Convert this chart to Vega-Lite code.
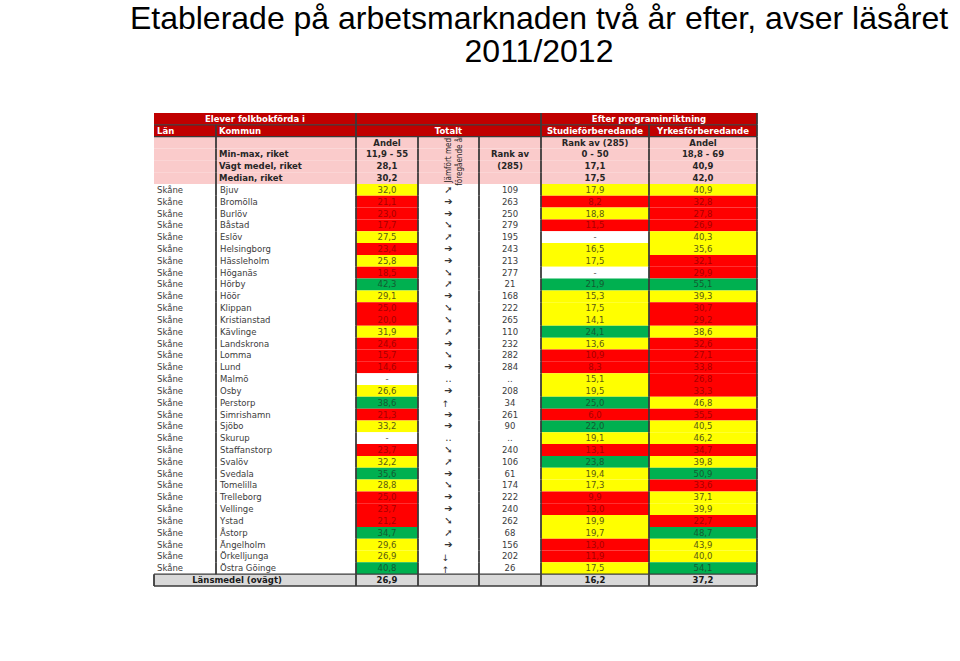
{
  "$schema": "https://vega.github.io/schema/vega-lite/v6.json",
  "background": "#ffffff",
  "padding": 0,
  "config": {"view": {"stroke": null}, "concat": {"spacing": 0}, "text": {"font": "DejaVu Sans"}},
  "bounds": "flush",
  "spacing": 0,
  "data": {"values": [
    {"row": "h1", "typ": "rubrik", "kommun": "Elever folkbokförda i", "yrkes": "Efter programinriktning"},
    {"row": "h2", "typ": "rubrik", "lan": "Län", "kommun": "Kommun", "trend": "Totalt", "studie": "Studieförberedande", "yrkes": "Yrkesförberedande"},
    {"row": "p1", "typ": "riket", "andel": "Andel", "studie": "Rank av (285)", "yrkes": "Andel"},
    {"row": "p2", "typ": "riket", "kommun": "Min-max, riket", "andel": "11,9 - 55", "trend": "Jämfört med\nföregående år", "rank": "Rank av", "studie": "0 - 50", "yrkes": "18,8 - 69"},
    {"row": "p3", "typ": "riket", "kommun": "Vägt medel, riket", "andel": "28,1", "rank": "(285)", "studie": "17,1", "yrkes": "40,9"},
    {"row": "p4", "typ": "riket", "kommun": "Median, riket", "andel": "30,2", "studie": "17,5", "yrkes": "42,0"},
    {"row": "Bjuv", "typ": "kommun", "lan": "Skåne", "kommun": "Bjuv", "andel": "32,0", "ak": "mellan", "trend": "➚", "rank": "109", "studie": "17,9", "sk": "mellan", "yrkes": "40,9", "yk": "mellan"},
    {"row": "Bromölla", "typ": "kommun", "lan": "Skåne", "kommun": "Bromölla", "andel": "21,1", "ak": "låg", "trend": "➔", "rank": "263", "studie": "8,2", "sk": "låg", "yrkes": "32,8", "yk": "låg"},
    {"row": "Burlöv", "typ": "kommun", "lan": "Skåne", "kommun": "Burlöv", "andel": "23,0", "ak": "låg", "trend": "➔", "rank": "250", "studie": "18,8", "sk": "mellan", "yrkes": "27,8", "yk": "låg"},
    {"row": "Båstad", "typ": "kommun", "lan": "Skåne", "kommun": "Båstad", "andel": "17,7", "ak": "låg", "trend": "➘", "rank": "279", "studie": "11,5", "sk": "låg", "yrkes": "26,9", "yk": "låg"},
    {"row": "Eslöv", "typ": "kommun", "lan": "Skåne", "kommun": "Eslöv", "andel": "27,5", "ak": "mellan", "trend": "➚", "rank": "195", "studie": "-", "sk": "saknas", "yrkes": "40,3", "yk": "mellan"},
    {"row": "Helsingborg", "typ": "kommun", "lan": "Skåne", "kommun": "Helsingborg", "andel": "23,4", "ak": "låg", "trend": "➔", "rank": "243", "studie": "16,5", "sk": "mellan", "yrkes": "35,6", "yk": "mellan"},
    {"row": "Hässleholm", "typ": "kommun", "lan": "Skåne", "kommun": "Hässleholm", "andel": "25,8", "ak": "mellan", "trend": "➔", "rank": "213", "studie": "17,5", "sk": "mellan", "yrkes": "32,1", "yk": "låg"},
    {"row": "Höganäs", "typ": "kommun", "lan": "Skåne", "kommun": "Höganäs", "andel": "18,5", "ak": "låg", "trend": "➘", "rank": "277", "studie": "-", "sk": "saknas", "yrkes": "29,9", "yk": "låg"},
    {"row": "Hörby", "typ": "kommun", "lan": "Skåne", "kommun": "Hörby", "andel": "42,3", "ak": "hög", "trend": "➚", "rank": "21", "studie": "21,9", "sk": "hög", "yrkes": "55,1", "yk": "hög"},
    {"row": "Höör", "typ": "kommun", "lan": "Skåne", "kommun": "Höör", "andel": "29,1", "ak": "mellan", "trend": "➔", "rank": "168", "studie": "15,3", "sk": "mellan", "yrkes": "39,3", "yk": "mellan"},
    {"row": "Klippan", "typ": "kommun", "lan": "Skåne", "kommun": "Klippan", "andel": "25,0", "ak": "låg", "trend": "➘", "rank": "222", "studie": "17,5", "sk": "mellan", "yrkes": "30,7", "yk": "låg"},
    {"row": "Kristianstad", "typ": "kommun", "lan": "Skåne", "kommun": "Kristianstad", "andel": "20,0", "ak": "låg", "trend": "➘", "rank": "265", "studie": "14,1", "sk": "mellan", "yrkes": "29,2", "yk": "låg"},
    {"row": "Kävlinge", "typ": "kommun", "lan": "Skåne", "kommun": "Kävlinge", "andel": "31,9", "ak": "mellan", "trend": "➚", "rank": "110", "studie": "24,1", "sk": "hög", "yrkes": "38,6", "yk": "mellan"},
    {"row": "Landskrona", "typ": "kommun", "lan": "Skåne", "kommun": "Landskrona", "andel": "24,6", "ak": "låg", "trend": "➔", "rank": "232", "studie": "13,6", "sk": "mellan", "yrkes": "32,6", "yk": "låg"},
    {"row": "Lomma", "typ": "kommun", "lan": "Skåne", "kommun": "Lomma", "andel": "15,7", "ak": "låg", "trend": "➘", "rank": "282", "studie": "10,9", "sk": "låg", "yrkes": "27,1", "yk": "låg"},
    {"row": "Lund", "typ": "kommun", "lan": "Skåne", "kommun": "Lund", "andel": "14,6", "ak": "låg", "trend": "➔", "rank": "284", "studie": "8,3", "sk": "låg", "yrkes": "33,8", "yk": "låg"},
    {"row": "Malmö", "typ": "kommun", "lan": "Skåne", "kommun": "Malmö", "andel": "-", "ak": "saknas", "trend": "..", "rank": "..", "studie": "15,1", "sk": "mellan", "yrkes": "26,8", "yk": "låg"},
    {"row": "Osby", "typ": "kommun", "lan": "Skåne", "kommun": "Osby", "andel": "26,6", "ak": "mellan", "trend": "➔", "rank": "208", "studie": "19,5", "sk": "mellan", "yrkes": "33,3", "yk": "låg"},
    {"row": "Perstorp", "typ": "kommun", "lan": "Skåne", "kommun": "Perstorp", "andel": "38,6", "ak": "hög", "trend": "↑", "rank": "34", "studie": "25,0", "sk": "hög", "yrkes": "46,8", "yk": "mellan"},
    {"row": "Simrishamn", "typ": "kommun", "lan": "Skåne", "kommun": "Simrishamn", "andel": "21,3", "ak": "låg", "trend": "➔", "rank": "261", "studie": "6,0", "sk": "låg", "yrkes": "35,5", "yk": "låg"},
    {"row": "Sjöbo", "typ": "kommun", "lan": "Skåne", "kommun": "Sjöbo", "andel": "33,2", "ak": "mellan", "trend": "➔", "rank": "90", "studie": "22,0", "sk": "hög", "yrkes": "40,5", "yk": "mellan"},
    {"row": "Skurup", "typ": "kommun", "lan": "Skåne", "kommun": "Skurup", "andel": "-", "ak": "saknas", "trend": "..", "rank": "..", "studie": "19,1", "sk": "mellan", "yrkes": "46,2", "yk": "mellan"},
    {"row": "Staffanstorp", "typ": "kommun", "lan": "Skåne", "kommun": "Staffanstorp", "andel": "23,7", "ak": "låg", "trend": "➘", "rank": "240", "studie": "13,1", "sk": "låg", "yrkes": "34,7", "yk": "låg"},
    {"row": "Svalöv", "typ": "kommun", "lan": "Skåne", "kommun": "Svalöv", "andel": "32,2", "ak": "mellan", "trend": "➚", "rank": "106", "studie": "23,8", "sk": "hög", "yrkes": "39,8", "yk": "mellan"},
    {"row": "Svedala", "typ": "kommun", "lan": "Skåne", "kommun": "Svedala", "andel": "35,6", "ak": "hög", "trend": "➔", "rank": "61", "studie": "19,4", "sk": "mellan", "yrkes": "50,9", "yk": "hög"},
    {"row": "Tomelilla", "typ": "kommun", "lan": "Skåne", "kommun": "Tomelilla", "andel": "28,8", "ak": "mellan", "trend": "➘", "rank": "174", "studie": "17,3", "sk": "mellan", "yrkes": "33,6", "yk": "låg"},
    {"row": "Trelleborg", "typ": "kommun", "lan": "Skåne", "kommun": "Trelleborg", "andel": "25,0", "ak": "låg", "trend": "➔", "rank": "222", "studie": "9,9", "sk": "låg", "yrkes": "37,1", "yk": "mellan"},
    {"row": "Vellinge", "typ": "kommun", "lan": "Skåne", "kommun": "Vellinge", "andel": "23,7", "ak": "låg", "trend": "➔", "rank": "240", "studie": "13,0", "sk": "låg", "yrkes": "39,9", "yk": "mellan"},
    {"row": "Ystad", "typ": "kommun", "lan": "Skåne", "kommun": "Ystad", "andel": "21,2", "ak": "låg", "trend": "➘", "rank": "262", "studie": "19,9", "sk": "mellan", "yrkes": "22,7", "yk": "låg"},
    {"row": "Åstorp", "typ": "kommun", "lan": "Skåne", "kommun": "Åstorp", "andel": "34,7", "ak": "hög", "trend": "➚", "rank": "68", "studie": "19,7", "sk": "mellan", "yrkes": "48,7", "yk": "hög"},
    {"row": "Ängelholm", "typ": "kommun", "lan": "Skåne", "kommun": "Ängelholm", "andel": "29,6", "ak": "mellan", "trend": "➔", "rank": "156", "studie": "13,0", "sk": "låg", "yrkes": "43,9", "yk": "mellan"},
    {"row": "Örkelljunga", "typ": "kommun", "lan": "Skåne", "kommun": "Örkelljunga", "andel": "26,9", "ak": "mellan", "trend": "↓", "rank": "202", "studie": "11,9", "sk": "låg", "yrkes": "40,0", "yk": "mellan"},
    {"row": "Östra Göinge", "typ": "kommun", "lan": "Skåne", "kommun": "Östra Göinge", "andel": "40,8", "ak": "hög", "trend": "↑", "rank": "26", "studie": "17,5", "sk": "mellan", "yrkes": "54,1", "yk": "hög"},
    {"row": "L", "typ": "län", "kommun": "Länsmedel (ovägt)", "andel": "26,9", "studie": "16,2", "yrkes": "37,2"}
  ]},
  "vconcat": [
    {"width": 960, "height": 113, "data": {"values": [{}]}, "mark": {"type": "text", "font": "Liberation Sans", "fontSize": 32, "lineHeight": 33, "baseline": "alphabetic", "align": "center", "dx": 59, "dy": -28, "color": "#000000"}, "encoding": {"text": {"value": ["Etablerade på arbetsmarknaden två år efter, avser läsåret", "2011/2012"]}}},
    {
      "bounds": "flush",
      "spacing": 0,
      "hconcat": [
        {"width": 154, "height": 473, "data": {"values": [{}]}, "mark": {"type": "text"}, "encoding": {"text": {"value": ""}}},
        {
          "width": 62, "height": 473,
          "encoding": {"y": {"field": "row", "type": "nominal", "scale": {"domain": ["h1","h2","p1","p2","p3","p4","Bjuv","Bromölla","Burlöv","Båstad","Eslöv","Helsingborg","Hässleholm","Höganäs","Hörby","Höör","Klippan","Kristianstad","Kävlinge","Landskrona","Lomma","Lund","Malmö","Osby","Perstorp","Simrishamn","Sjöbo","Skurup","Staffanstorp","Svalöv","Svedala","Tomelilla","Trelleborg","Vellinge","Ystad","Åstorp","Ängelholm","Örkelljunga","Östra Göinge","L"], "paddingInner": 0, "paddingOuter": 0}, "axis": null}},
          "layer": [
            {"mark": {"type": "rect"}, "encoding": {"fill": {"condition": [{"test": "datum.typ==='rubrik'", "value": "#C00000"}, {"test": "datum.typ==='riket'", "value": "#FACBCB"}, {"test": "datum.typ==='län'", "value": "#D9D9D9"}], "value": "#FFFFFF"}}},
            {"transform": [{"filter": "datum.typ==='rubrik' && isValid(datum.lan)"}], "mark": {"type": "text", "align": "left", "dx": -28, "fontWeight": "bold", "fontSize": 8.5, "color": "#FFFFFF"}, "encoding": {"text": {"field": "lan"}}},
            {"transform": [{"filter": "datum.typ==='kommun'"}], "mark": {"type": "text", "align": "left", "dx": -28, "fontSize": 8.5, "color": "#3c3c3c"}, "encoding": {"text": {"field": "lan"}}},
            {"transform": [{"filter": "datum.row==='L'"}], "mark": {"type": "rect", "color": "#3a3a3a"}, "encoding": {"x": {"value": -0.9}, "x2": {"value": 0.9}}},
            {"transform": [{"filter": "indexof(['h2','p1','L'], datum.row) >= 0"}], "mark": {"type": "rule", "color": "#3a3a3a", "strokeWidth": 1.2}, "encoding": {"y": {"field": "row", "type": "nominal", "bandPosition": 0, "scale": {"domain": ["h1","h2","p1","p2","p3","p4","Bjuv","Bromölla","Burlöv","Båstad","Eslöv","Helsingborg","Hässleholm","Höganäs","Hörby","Höör","Klippan","Kristianstad","Kävlinge","Landskrona","Lomma","Lund","Malmö","Osby","Perstorp","Simrishamn","Sjöbo","Skurup","Staffanstorp","Svalöv","Svedala","Tomelilla","Trelleborg","Vellinge","Ystad","Åstorp","Ängelholm","Örkelljunga","Östra Göinge","L"], "paddingInner": 0, "paddingOuter": 0}, "axis": null}}},
            {"transform": [{"filter": "datum.row==='L'"}], "mark": {"type": "rule", "color": "#3a3a3a", "strokeWidth": 1.5}, "encoding": {"y": {"field": "row", "type": "nominal", "bandPosition": 1, "scale": {"domain": ["h1","h2","p1","p2","p3","p4","Bjuv","Bromölla","Burlöv","Båstad","Eslöv","Helsingborg","Hässleholm","Höganäs","Hörby","Höör","Klippan","Kristianstad","Kävlinge","Landskrona","Lomma","Lund","Malmö","Osby","Perstorp","Simrishamn","Sjöbo","Skurup","Staffanstorp","Svalöv","Svedala","Tomelilla","Trelleborg","Vellinge","Ystad","Åstorp","Ängelholm","Örkelljunga","Östra Göinge","L"], "paddingInner": 0, "paddingOuter": 0}, "axis": null}}}
          ]
        },
        {
          "width": 140, "height": 473,
          "encoding": {"y": {"field": "row", "type": "nominal", "scale": {"domain": ["h1","h2","p1","p2","p3","p4","Bjuv","Bromölla","Burlöv","Båstad","Eslöv","Helsingborg","Hässleholm","Höganäs","Hörby","Höör","Klippan","Kristianstad","Kävlinge","Landskrona","Lomma","Lund","Malmö","Osby","Perstorp","Simrishamn","Sjöbo","Skurup","Staffanstorp","Svalöv","Svedala","Tomelilla","Trelleborg","Vellinge","Ystad","Åstorp","Ängelholm","Örkelljunga","Östra Göinge","L"], "paddingInner": 0, "paddingOuter": 0}, "axis": null}},
          "layer": [
            {"mark": {"type": "rect"}, "encoding": {"fill": {"condition": [{"test": "datum.typ==='rubrik'", "value": "#C00000"}, {"test": "datum.typ==='riket'", "value": "#FACBCB"}, {"test": "datum.typ==='län'", "value": "#D9D9D9"}], "value": "#FFFFFF"}}},
            {"transform": [{"filter": "datum.row==='h1'"}], "mark": {"type": "text", "align": "center", "dx": -31, "fontWeight": "bold", "fontSize": 8.5, "color": "#FFFFFF"}, "encoding": {"text": {"field": "kommun"}}},
            {"transform": [{"filter": "datum.row==='h2'"}], "mark": {"type": "text", "align": "left", "dx": -67, "fontWeight": "bold", "fontSize": 8.5, "color": "#FFFFFF"}, "encoding": {"text": {"field": "kommun"}}},
            {"transform": [{"filter": "datum.typ==='riket' && isValid(datum.kommun)"}], "mark": {"type": "text", "align": "left", "dx": -67, "fontWeight": "bold", "fontSize": 8.5, "color": "#262626"}, "encoding": {"text": {"field": "kommun"}}},
            {"transform": [{"filter": "datum.typ==='kommun'"}], "mark": {"type": "text", "align": "left", "dx": -66, "fontSize": 8.5, "color": "#3c3c3c"}, "encoding": {"text": {"field": "kommun"}}},
            {"transform": [{"filter": "datum.typ==='län'"}], "mark": {"type": "text", "align": "center", "dx": -49, "fontWeight": "bold", "fontSize": 8.5, "color": "#1a1a1a"}, "encoding": {"text": {"field": "kommun"}}},
            {"transform": [{"filter": "indexof(['h1','L'], datum.row) < 0"}], "mark": {"type": "rect", "color": "#3a3a3a"}, "encoding": {"x": {"value": -0.9}, "x2": {"value": 0.9}}},
            {"transform": [{"filter": "indexof(['h2','p1','L'], datum.row) >= 0"}], "mark": {"type": "rule", "color": "#3a3a3a", "strokeWidth": 1.2}, "encoding": {"y": {"field": "row", "type": "nominal", "bandPosition": 0, "scale": {"domain": ["h1","h2","p1","p2","p3","p4","Bjuv","Bromölla","Burlöv","Båstad","Eslöv","Helsingborg","Hässleholm","Höganäs","Hörby","Höör","Klippan","Kristianstad","Kävlinge","Landskrona","Lomma","Lund","Malmö","Osby","Perstorp","Simrishamn","Sjöbo","Skurup","Staffanstorp","Svalöv","Svedala","Tomelilla","Trelleborg","Vellinge","Ystad","Åstorp","Ängelholm","Örkelljunga","Östra Göinge","L"], "paddingInner": 0, "paddingOuter": 0}, "axis": null}}},
            {"transform": [{"filter": "datum.row==='L'"}], "mark": {"type": "rule", "color": "#3a3a3a", "strokeWidth": 1.5}, "encoding": {"y": {"field": "row", "type": "nominal", "bandPosition": 1, "scale": {"domain": ["h1","h2","p1","p2","p3","p4","Bjuv","Bromölla","Burlöv","Båstad","Eslöv","Helsingborg","Hässleholm","Höganäs","Hörby","Höör","Klippan","Kristianstad","Kävlinge","Landskrona","Lomma","Lund","Malmö","Osby","Perstorp","Simrishamn","Sjöbo","Skurup","Staffanstorp","Svalöv","Svedala","Tomelilla","Trelleborg","Vellinge","Ystad","Åstorp","Ängelholm","Örkelljunga","Östra Göinge","L"], "paddingInner": 0, "paddingOuter": 0}, "axis": null}}}
          ]
        },
        {
          "width": 62, "height": 473,
          "encoding": {"y": {"field": "row", "type": "nominal", "scale": {"domain": ["h1","h2","p1","p2","p3","p4","Bjuv","Bromölla","Burlöv","Båstad","Eslöv","Helsingborg","Hässleholm","Höganäs","Hörby","Höör","Klippan","Kristianstad","Kävlinge","Landskrona","Lomma","Lund","Malmö","Osby","Perstorp","Simrishamn","Sjöbo","Skurup","Staffanstorp","Svalöv","Svedala","Tomelilla","Trelleborg","Vellinge","Ystad","Åstorp","Ängelholm","Örkelljunga","Östra Göinge","L"], "paddingInner": 0, "paddingOuter": 0}, "axis": null}},
          "layer": [
            {"mark": {"type": "rect"}, "encoding": {"fill": {"condition": [{"test": "datum.typ==='rubrik'", "value": "#C00000"}, {"test": "datum.typ==='riket'", "value": "#FACBCB"}, {"test": "datum.typ==='län'", "value": "#D9D9D9"}], "field": "ak", "type": "nominal", "scale": {"domain": ["hög","mellan","låg","saknas"], "range": ["#00B050","#FFFF00","#FF0000","#FFFFFF"]}, "legend": null}}},
            {"transform": [{"filter": "datum.typ==='riket' && isValid(datum.andel)"}], "mark": {"type": "text", "fontWeight": "bold", "fontSize": 8.5, "color": "#262626"}, "encoding": {"text": {"field": "andel"}}},
            {"transform": [{"filter": "datum.typ==='kommun'"}], "mark": {"type": "text", "fontSize": 8.5}, "encoding": {"text": {"field": "andel"}, "color": {"field": "ak", "type": "nominal", "scale": {"domain": ["hög","mellan","låg","saknas"], "range": ["#145a32","#5a5a14","#a80000","#555555"]}, "legend": null}}},
            {"transform": [{"filter": "datum.typ==='län'"}], "mark": {"type": "text", "fontWeight": "bold", "fontSize": 8.5, "color": "#1a1a1a"}, "encoding": {"text": {"field": "andel"}}},
            {"mark": {"type": "rect", "color": "#3a3a3a"}, "encoding": {"x": {"value": -0.9}, "x2": {"value": 0.9}}},
            {"transform": [{"filter": "indexof(['h2','p1','L'], datum.row) >= 0"}], "mark": {"type": "rule", "color": "#3a3a3a", "strokeWidth": 1.2}, "encoding": {"y": {"field": "row", "type": "nominal", "bandPosition": 0, "scale": {"domain": ["h1","h2","p1","p2","p3","p4","Bjuv","Bromölla","Burlöv","Båstad","Eslöv","Helsingborg","Hässleholm","Höganäs","Hörby","Höör","Klippan","Kristianstad","Kävlinge","Landskrona","Lomma","Lund","Malmö","Osby","Perstorp","Simrishamn","Sjöbo","Skurup","Staffanstorp","Svalöv","Svedala","Tomelilla","Trelleborg","Vellinge","Ystad","Åstorp","Ängelholm","Örkelljunga","Östra Göinge","L"], "paddingInner": 0, "paddingOuter": 0}, "axis": null}}},
            {"transform": [{"filter": "datum.row==='L'"}], "mark": {"type": "rule", "color": "#3a3a3a", "strokeWidth": 1.5}, "encoding": {"y": {"field": "row", "type": "nominal", "bandPosition": 1, "scale": {"domain": ["h1","h2","p1","p2","p3","p4","Bjuv","Bromölla","Burlöv","Båstad","Eslöv","Helsingborg","Hässleholm","Höganäs","Hörby","Höör","Klippan","Kristianstad","Kävlinge","Landskrona","Lomma","Lund","Malmö","Osby","Perstorp","Simrishamn","Sjöbo","Skurup","Staffanstorp","Svalöv","Svedala","Tomelilla","Trelleborg","Vellinge","Ystad","Åstorp","Ängelholm","Örkelljunga","Östra Göinge","L"], "paddingInner": 0, "paddingOuter": 0}, "axis": null}}}
          ]
        },
        {
          "width": 61, "height": 473,
          "encoding": {"y": {"field": "row", "type": "nominal", "scale": {"domain": ["h1","h2","p1","p2","p3","p4","Bjuv","Bromölla","Burlöv","Båstad","Eslöv","Helsingborg","Hässleholm","Höganäs","Hörby","Höör","Klippan","Kristianstad","Kävlinge","Landskrona","Lomma","Lund","Malmö","Osby","Perstorp","Simrishamn","Sjöbo","Skurup","Staffanstorp","Svalöv","Svedala","Tomelilla","Trelleborg","Vellinge","Ystad","Åstorp","Ängelholm","Örkelljunga","Östra Göinge","L"], "paddingInner": 0, "paddingOuter": 0}, "axis": null}},
          "layer": [
            {"mark": {"type": "rect"}, "encoding": {"fill": {"condition": [{"test": "datum.typ==='rubrik'", "value": "#C00000"}, {"test": "datum.typ==='riket'", "value": "#FACBCB"}, {"test": "datum.typ==='län'", "value": "#D9D9D9"}], "value": "#FFFFFF"}}},
            {"transform": [{"filter": "datum.row==='h2'"}], "mark": {"type": "text", "fontWeight": "bold", "fontSize": 8.5, "color": "#FFFFFF"}, "encoding": {"text": {"field": "trend"}}},
            {"transform": [{"filter": "datum.row==='p2'"}], "mark": {"type": "text", "angle": 270, "lineBreak": "\n", "lineHeight": 11, "baseline": "middle", "font": "Liberation Sans Narrow, DejaVu Sans Condensed, Liberation Sans, sans-serif", "fontSize": 8, "color": "#222222"}, "encoding": {"text": {"field": "trend"}, "y": {"field": "row", "type": "nominal", "bandPosition": 1, "scale": {"domain": ["h1","h2","p1","p2","p3","p4","Bjuv","Bromölla","Burlöv","Båstad","Eslöv","Helsingborg","Hässleholm","Höganäs","Hörby","Höör","Klippan","Kristianstad","Kävlinge","Landskrona","Lomma","Lund","Malmö","Osby","Perstorp","Simrishamn","Sjöbo","Skurup","Staffanstorp","Svalöv","Svedala","Tomelilla","Trelleborg","Vellinge","Ystad","Åstorp","Ängelholm","Örkelljunga","Östra Göinge","L"], "paddingInner": 0, "paddingOuter": 0}, "axis": null}}},
            {"transform": [{"filter": "datum.typ==='kommun' && datum.trend!=='↑' && datum.trend!=='↓'"}], "mark": {"type": "text", "fontSize": 10, "color": "#333333"}, "encoding": {"text": {"field": "trend"}}},
            {"transform": [{"filter": "datum.trend==='↑' || datum.trend==='↓'"}], "mark": {"type": "text", "fontSize": 9, "dx": -3, "dy": 1.5, "color": "#333333"}, "encoding": {"text": {"field": "trend"}}},
            {"transform": [{"filter": "indexof(['h1','h2'], datum.row) < 0"}], "mark": {"type": "rect", "color": "#3a3a3a"}, "encoding": {"x": {"value": -0.9}, "x2": {"value": 0.9}}},
            {"transform": [{"filter": "indexof(['h2','p1','L'], datum.row) >= 0"}], "mark": {"type": "rule", "color": "#3a3a3a", "strokeWidth": 1.2}, "encoding": {"y": {"field": "row", "type": "nominal", "bandPosition": 0, "scale": {"domain": ["h1","h2","p1","p2","p3","p4","Bjuv","Bromölla","Burlöv","Båstad","Eslöv","Helsingborg","Hässleholm","Höganäs","Hörby","Höör","Klippan","Kristianstad","Kävlinge","Landskrona","Lomma","Lund","Malmö","Osby","Perstorp","Simrishamn","Sjöbo","Skurup","Staffanstorp","Svalöv","Svedala","Tomelilla","Trelleborg","Vellinge","Ystad","Åstorp","Ängelholm","Örkelljunga","Östra Göinge","L"], "paddingInner": 0, "paddingOuter": 0}, "axis": null}}},
            {"transform": [{"filter": "datum.row==='L'"}], "mark": {"type": "rule", "color": "#3a3a3a", "strokeWidth": 1.5}, "encoding": {"y": {"field": "row", "type": "nominal", "bandPosition": 1, "scale": {"domain": ["h1","h2","p1","p2","p3","p4","Bjuv","Bromölla","Burlöv","Båstad","Eslöv","Helsingborg","Hässleholm","Höganäs","Hörby","Höör","Klippan","Kristianstad","Kävlinge","Landskrona","Lomma","Lund","Malmö","Osby","Perstorp","Simrishamn","Sjöbo","Skurup","Staffanstorp","Svalöv","Svedala","Tomelilla","Trelleborg","Vellinge","Ystad","Åstorp","Ängelholm","Örkelljunga","Östra Göinge","L"], "paddingInner": 0, "paddingOuter": 0}, "axis": null}}}
          ]
        },
        {
          "width": 62, "height": 473,
          "encoding": {"y": {"field": "row", "type": "nominal", "scale": {"domain": ["h1","h2","p1","p2","p3","p4","Bjuv","Bromölla","Burlöv","Båstad","Eslöv","Helsingborg","Hässleholm","Höganäs","Hörby","Höör","Klippan","Kristianstad","Kävlinge","Landskrona","Lomma","Lund","Malmö","Osby","Perstorp","Simrishamn","Sjöbo","Skurup","Staffanstorp","Svalöv","Svedala","Tomelilla","Trelleborg","Vellinge","Ystad","Åstorp","Ängelholm","Örkelljunga","Östra Göinge","L"], "paddingInner": 0, "paddingOuter": 0}, "axis": null}},
          "layer": [
            {"mark": {"type": "rect"}, "encoding": {"fill": {"condition": [{"test": "datum.typ==='rubrik'", "value": "#C00000"}, {"test": "datum.typ==='riket'", "value": "#FACBCB"}, {"test": "datum.typ==='län'", "value": "#D9D9D9"}], "value": "#FFFFFF"}}},
            {"transform": [{"filter": "datum.typ==='riket' && isValid(datum.rank)"}], "mark": {"type": "text", "fontWeight": "bold", "fontSize": 8.5, "color": "#262626"}, "encoding": {"text": {"field": "rank"}}},
            {"transform": [{"filter": "datum.typ==='kommun'"}], "mark": {"type": "text", "fontSize": 8.5, "color": "#3c3c3c"}, "encoding": {"text": {"field": "rank"}}},
            {"transform": [{"filter": "indexof(['h1','h2'], datum.row) < 0"}], "mark": {"type": "rect", "color": "#3a3a3a"}, "encoding": {"x": {"value": -0.9}, "x2": {"value": 0.9}}},
            {"transform": [{"filter": "indexof(['h2','p1','L'], datum.row) >= 0"}], "mark": {"type": "rule", "color": "#3a3a3a", "strokeWidth": 1.2}, "encoding": {"y": {"field": "row", "type": "nominal", "bandPosition": 0, "scale": {"domain": ["h1","h2","p1","p2","p3","p4","Bjuv","Bromölla","Burlöv","Båstad","Eslöv","Helsingborg","Hässleholm","Höganäs","Hörby","Höör","Klippan","Kristianstad","Kävlinge","Landskrona","Lomma","Lund","Malmö","Osby","Perstorp","Simrishamn","Sjöbo","Skurup","Staffanstorp","Svalöv","Svedala","Tomelilla","Trelleborg","Vellinge","Ystad","Åstorp","Ängelholm","Örkelljunga","Östra Göinge","L"], "paddingInner": 0, "paddingOuter": 0}, "axis": null}}},
            {"transform": [{"filter": "datum.row==='L'"}], "mark": {"type": "rule", "color": "#3a3a3a", "strokeWidth": 1.5}, "encoding": {"y": {"field": "row", "type": "nominal", "bandPosition": 1, "scale": {"domain": ["h1","h2","p1","p2","p3","p4","Bjuv","Bromölla","Burlöv","Båstad","Eslöv","Helsingborg","Hässleholm","Höganäs","Hörby","Höör","Klippan","Kristianstad","Kävlinge","Landskrona","Lomma","Lund","Malmö","Osby","Perstorp","Simrishamn","Sjöbo","Skurup","Staffanstorp","Svalöv","Svedala","Tomelilla","Trelleborg","Vellinge","Ystad","Åstorp","Ängelholm","Örkelljunga","Östra Göinge","L"], "paddingInner": 0, "paddingOuter": 0}, "axis": null}}}
          ]
        },
        {
          "width": 108, "height": 473,
          "encoding": {"y": {"field": "row", "type": "nominal", "scale": {"domain": ["h1","h2","p1","p2","p3","p4","Bjuv","Bromölla","Burlöv","Båstad","Eslöv","Helsingborg","Hässleholm","Höganäs","Hörby","Höör","Klippan","Kristianstad","Kävlinge","Landskrona","Lomma","Lund","Malmö","Osby","Perstorp","Simrishamn","Sjöbo","Skurup","Staffanstorp","Svalöv","Svedala","Tomelilla","Trelleborg","Vellinge","Ystad","Åstorp","Ängelholm","Örkelljunga","Östra Göinge","L"], "paddingInner": 0, "paddingOuter": 0}, "axis": null}},
          "layer": [
            {"mark": {"type": "rect"}, "encoding": {"fill": {"condition": [{"test": "datum.typ==='rubrik'", "value": "#C00000"}, {"test": "datum.typ==='riket'", "value": "#FACBCB"}, {"test": "datum.typ==='län'", "value": "#D9D9D9"}], "field": "sk", "type": "nominal", "scale": {"domain": ["hög","mellan","låg","saknas"], "range": ["#00B050","#FFFF00","#FF0000","#FFFFFF"]}, "legend": null}}},
            {"transform": [{"filter": "datum.row==='h2'"}], "mark": {"type": "text", "fontWeight": "bold", "fontSize": 8.5, "color": "#FFFFFF"}, "encoding": {"text": {"field": "studie"}}},
            {"transform": [{"filter": "datum.typ==='riket' && isValid(datum.studie)"}], "mark": {"type": "text", "fontWeight": "bold", "fontSize": 8.5, "color": "#262626"}, "encoding": {"text": {"field": "studie"}}},
            {"transform": [{"filter": "datum.typ==='kommun'"}], "mark": {"type": "text", "fontSize": 8.5}, "encoding": {"text": {"field": "studie"}, "color": {"field": "sk", "type": "nominal", "scale": {"domain": ["hög","mellan","låg","saknas"], "range": ["#145a32","#5a5a14","#a80000","#555555"]}, "legend": null}}},
            {"transform": [{"filter": "datum.typ==='län'"}], "mark": {"type": "text", "fontWeight": "bold", "fontSize": 8.5, "color": "#1a1a1a"}, "encoding": {"text": {"field": "studie"}}},
            {"mark": {"type": "rect", "color": "#3a3a3a"}, "encoding": {"x": {"value": -0.9}, "x2": {"value": 0.9}}},
            {"transform": [{"filter": "indexof(['h2','p1','L'], datum.row) >= 0"}], "mark": {"type": "rule", "color": "#3a3a3a", "strokeWidth": 1.2}, "encoding": {"y": {"field": "row", "type": "nominal", "bandPosition": 0, "scale": {"domain": ["h1","h2","p1","p2","p3","p4","Bjuv","Bromölla","Burlöv","Båstad","Eslöv","Helsingborg","Hässleholm","Höganäs","Hörby","Höör","Klippan","Kristianstad","Kävlinge","Landskrona","Lomma","Lund","Malmö","Osby","Perstorp","Simrishamn","Sjöbo","Skurup","Staffanstorp","Svalöv","Svedala","Tomelilla","Trelleborg","Vellinge","Ystad","Åstorp","Ängelholm","Örkelljunga","Östra Göinge","L"], "paddingInner": 0, "paddingOuter": 0}, "axis": null}}},
            {"transform": [{"filter": "datum.row==='L'"}], "mark": {"type": "rule", "color": "#3a3a3a", "strokeWidth": 1.5}, "encoding": {"y": {"field": "row", "type": "nominal", "bandPosition": 1, "scale": {"domain": ["h1","h2","p1","p2","p3","p4","Bjuv","Bromölla","Burlöv","Båstad","Eslöv","Helsingborg","Hässleholm","Höganäs","Hörby","Höör","Klippan","Kristianstad","Kävlinge","Landskrona","Lomma","Lund","Malmö","Osby","Perstorp","Simrishamn","Sjöbo","Skurup","Staffanstorp","Svalöv","Svedala","Tomelilla","Trelleborg","Vellinge","Ystad","Åstorp","Ängelholm","Örkelljunga","Östra Göinge","L"], "paddingInner": 0, "paddingOuter": 0}, "axis": null}}}
          ]
        },
        {
          "width": 108, "height": 473,
          "encoding": {"y": {"field": "row", "type": "nominal", "scale": {"domain": ["h1","h2","p1","p2","p3","p4","Bjuv","Bromölla","Burlöv","Båstad","Eslöv","Helsingborg","Hässleholm","Höganäs","Hörby","Höör","Klippan","Kristianstad","Kävlinge","Landskrona","Lomma","Lund","Malmö","Osby","Perstorp","Simrishamn","Sjöbo","Skurup","Staffanstorp","Svalöv","Svedala","Tomelilla","Trelleborg","Vellinge","Ystad","Åstorp","Ängelholm","Örkelljunga","Östra Göinge","L"], "paddingInner": 0, "paddingOuter": 0}, "axis": null}},
          "layer": [
            {"mark": {"type": "rect"}, "encoding": {"fill": {"condition": [{"test": "datum.typ==='rubrik'", "value": "#C00000"}, {"test": "datum.typ==='riket'", "value": "#FACBCB"}, {"test": "datum.typ==='län'", "value": "#D9D9D9"}], "field": "yk", "type": "nominal", "scale": {"domain": ["hög","mellan","låg","saknas"], "range": ["#00B050","#FFFF00","#FF0000","#FFFFFF"]}, "legend": null}}},
            {"transform": [{"filter": "datum.row==='h1'"}], "mark": {"type": "text", "dx": -54, "fontWeight": "bold", "fontSize": 8.5, "color": "#FFFFFF"}, "encoding": {"text": {"field": "yrkes"}}},
            {"transform": [{"filter": "datum.row==='h2'"}], "mark": {"type": "text", "fontWeight": "bold", "fontSize": 8.5, "color": "#FFFFFF"}, "encoding": {"text": {"field": "yrkes"}}},
            {"transform": [{"filter": "datum.typ==='riket' && isValid(datum.yrkes)"}], "mark": {"type": "text", "fontWeight": "bold", "fontSize": 8.5, "color": "#262626"}, "encoding": {"text": {"field": "yrkes"}}},
            {"transform": [{"filter": "datum.typ==='kommun'"}], "mark": {"type": "text", "fontSize": 8.5}, "encoding": {"text": {"field": "yrkes"}, "color": {"field": "yk", "type": "nominal", "scale": {"domain": ["hög","mellan","låg","saknas"], "range": ["#145a32","#5a5a14","#a80000","#555555"]}, "legend": null}}},
            {"transform": [{"filter": "datum.typ==='län'"}], "mark": {"type": "text", "fontWeight": "bold", "fontSize": 8.5, "color": "#1a1a1a"}, "encoding": {"text": {"field": "yrkes"}}},
            {"transform": [{"filter": "datum.row!=='h1'"}], "mark": {"type": "rect", "color": "#3a3a3a"}, "encoding": {"x": {"value": -0.9}, "x2": {"value": 0.9}}},
            {"mark": {"type": "rect", "color": "#3a3a3a"}, "encoding": {"x": {"value": 107.1}, "x2": {"value": 108.9}}},
            {"transform": [{"filter": "indexof(['h2','p1','L'], datum.row) >= 0"}], "mark": {"type": "rule", "color": "#3a3a3a", "strokeWidth": 1.2}, "encoding": {"y": {"field": "row", "type": "nominal", "bandPosition": 0, "scale": {"domain": ["h1","h2","p1","p2","p3","p4","Bjuv","Bromölla","Burlöv","Båstad","Eslöv","Helsingborg","Hässleholm","Höganäs","Hörby","Höör","Klippan","Kristianstad","Kävlinge","Landskrona","Lomma","Lund","Malmö","Osby","Perstorp","Simrishamn","Sjöbo","Skurup","Staffanstorp","Svalöv","Svedala","Tomelilla","Trelleborg","Vellinge","Ystad","Åstorp","Ängelholm","Örkelljunga","Östra Göinge","L"], "paddingInner": 0, "paddingOuter": 0}, "axis": null}}},
            {"transform": [{"filter": "datum.row==='L'"}], "mark": {"type": "rule", "color": "#3a3a3a", "strokeWidth": 1.5}, "encoding": {"y": {"field": "row", "type": "nominal", "bandPosition": 1, "scale": {"domain": ["h1","h2","p1","p2","p3","p4","Bjuv","Bromölla","Burlöv","Båstad","Eslöv","Helsingborg","Hässleholm","Höganäs","Hörby","Höör","Klippan","Kristianstad","Kävlinge","Landskrona","Lomma","Lund","Malmö","Osby","Perstorp","Simrishamn","Sjöbo","Skurup","Staffanstorp","Svalöv","Svedala","Tomelilla","Trelleborg","Vellinge","Ystad","Åstorp","Ängelholm","Örkelljunga","Östra Göinge","L"], "paddingInner": 0, "paddingOuter": 0}, "axis": null}}}
          ]
        }
      ]
    }
  ]
}
